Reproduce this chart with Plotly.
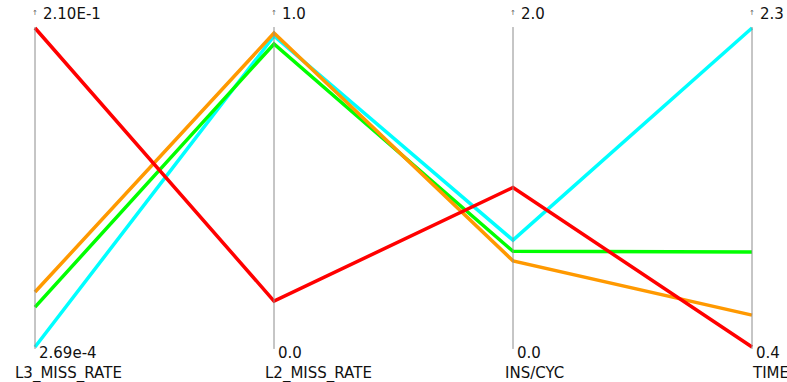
import plotly.graph_objects as go

# Parallel-coordinates view of four runs across four metrics
dimensions = ["L3_MISS_RATE", "L2_MISS_RATE", "INS/CYC", "TIME"]
dim_min = [2.69e-4, 0.0, 0.0, 0.4]
dim_max = [2.10e-1, 1.0, 2.0, 2.3]
min_labels = ["2.69e-4", "0.0", "0.0", "0.4"]
max_labels = ["2.10E-1", "1.0", "2.0", "2.3"]

series_colors = ["#00ffff", "#00ff00", "#ff9900", "#ff0000"]
run_cyan = [2.69e-4, 0.975, 0.67, 2.3]
run_green = [0.0265, 0.950, 0.60, 0.966]
run_orange = [0.0364, 0.984, 0.54, 0.59]
run_red = [0.210, 0.144, 1.00, 0.4]
runs = [run_cyan, run_green, run_orange, run_red]

W, H = 787, 382
top_px, bot_px = 28, 347
left_px, right_px = 35, 752
ppu_y = bot_px - top_px
ppu_x = (right_px - left_px) / (len(dimensions) - 1)
y_range = [-(H - bot_px) / ppu_y, 1 + top_px / ppu_y]
x_range = [-left_px / ppu_x, (len(dimensions) - 1) + (W - right_px) / ppu_x]


def normalise(vals):
    return [(v - lo) / (hi - lo) for v, lo, hi in zip(vals, dim_min, dim_max)]


fig = go.Figure()
xs = list(range(len(dimensions)))

for vals, col in zip(runs, series_colors):
    fig.add_trace(go.Scatter(x=xs, y=normalise(vals), mode="lines",
                             line=dict(color=col, width=3.5),
                             showlegend=False))

# vertical axis lines, drawn over the series
for i in xs:
    fig.add_trace(go.Scatter(x=[i, i], y=[-0.006, 1.003], mode="lines",
                             line=dict(color="#8c8c8c", width=1),
                             hoverinfo="skip", showlegend=False))

font = dict(family="DejaVu Sans", size=15, color="#111111")
ann = []
name_shift = [-22, -11, -10, -2]
for i, name in enumerate(dimensions):
    ann.append(dict(x=i, y=1.0, xref="x", yref="y", text=max_labels[i],
                    showarrow=False, xanchor="left", yanchor="middle",
                    xshift=6, yshift=14, font=font))
    ann.append(dict(x=i, y=1.0, xref="x", yref="y", text="↑",
                    showarrow=False, xanchor="center", yanchor="middle",
                    yshift=15, font=dict(family="DejaVu Sans", size=7, color="#555555")))
    ann.append(dict(x=i, y=0.0, xref="x", yref="y", text=min_labels[i],
                    showarrow=False, xanchor="left", yanchor="middle",
                    xshift=2, yshift=-6, font=font))
    ann.append(dict(x=i, y=0.0, xref="x", yref="y", text=name,
                    showarrow=False, xanchor="left", yanchor="middle",
                    xshift=name_shift[i], yshift=-26, font=font))

fig.update_layout(
    width=W, height=H, margin=dict(l=0, r=0, t=0, b=0),
    paper_bgcolor="white", plot_bgcolor="white",
    xaxis=dict(range=x_range, visible=False, fixedrange=True),
    yaxis=dict(range=y_range, visible=False, fixedrange=True),
    annotations=ann,
)

fig.write_html("out.html")
